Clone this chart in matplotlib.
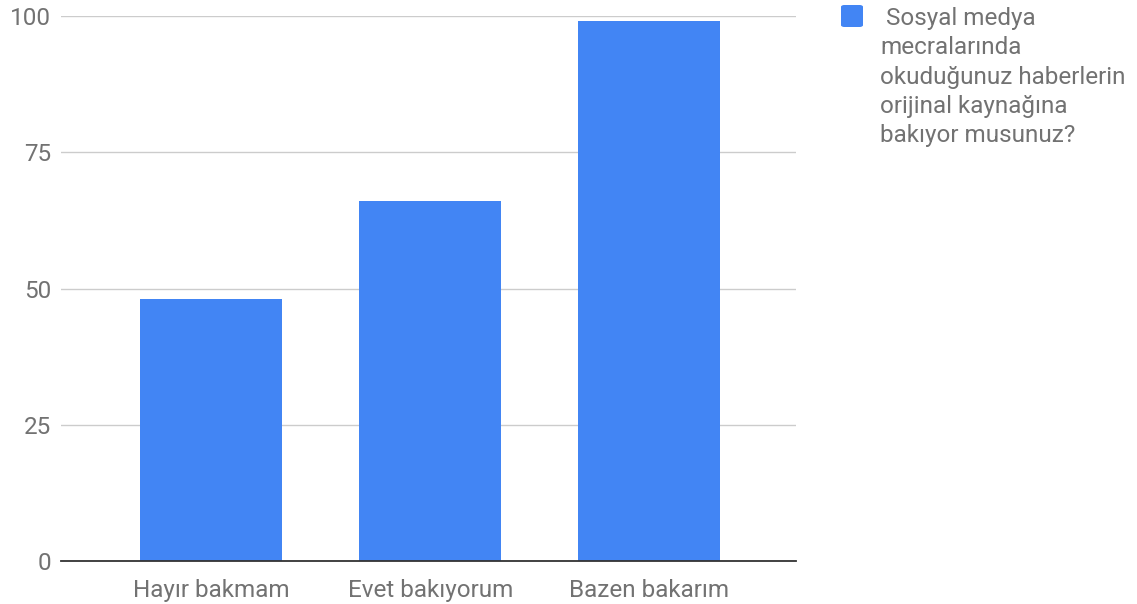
import matplotlib
matplotlib.use("Agg")
import matplotlib.pyplot as plt
from matplotlib.patches import FancyBboxPatch

categories = ["Hayır bakmam", "Evet bakıyorum", "Bazen bakarım"]
values = [48, 66, 99]
yticks = [0, 25, 50, 75, 100]
series_label = " Sosyal medya\nmecralarında\nokuduğunuz haberlerin\norijinal kaynağına\nbakıyor musunuz?"

W, H = 1137, 604
fig = plt.figure(figsize=(W / 100, H / 100), dpi=100)
plt.rcParams['font.family'] = ['Roboto', 'DejaVu Sans']

ax = fig.add_axes([61 / W, (H - 561) / H, (796 - 61) / W, (561 - 16) / H])
x = list(range(len(categories)))
ax.bar(x, values, width=0.648, color='#4285F4', zorder=3)
ax.set_xlim(-0.685, 2.669)
ax.set_ylim(0, 100)
ax.set_yticks(yticks)
ax.set_xticks(x)
ax.set_xticklabels(categories)
ax.grid(axis='y', color='#cccccc', linewidth=1, zorder=0)
for s in ['top', 'right', 'left']:
    ax.spines[s].set_visible(False)
ax.spines['bottom'].set_color('#333333')
ax.spines['bottom'].set_linewidth(1.3)
ax.spines['bottom'].set_zorder(4)
ax.tick_params(axis='both', length=0, labelsize=17.5, labelcolor='#727272')
ax.tick_params(axis='y', pad=7)
ax.tick_params(axis='x', pad=13)

# legend
fig.patches.append(FancyBboxPatch((841 / W, (H - 27) / H), 22 / W, 22 / H,
                                  boxstyle="round,pad=0,rounding_size=0.003",
                                  transform=fig.transFigure, facecolor='#4285F4',
                                  edgecolor='none'))
fig.text(880 / W, (H - 7) / H, series_label, ha='left', va='top',
         fontsize=17.5, color='#727272', linespacing=1.35)

fig.savefig("out.png", dpi=100)
